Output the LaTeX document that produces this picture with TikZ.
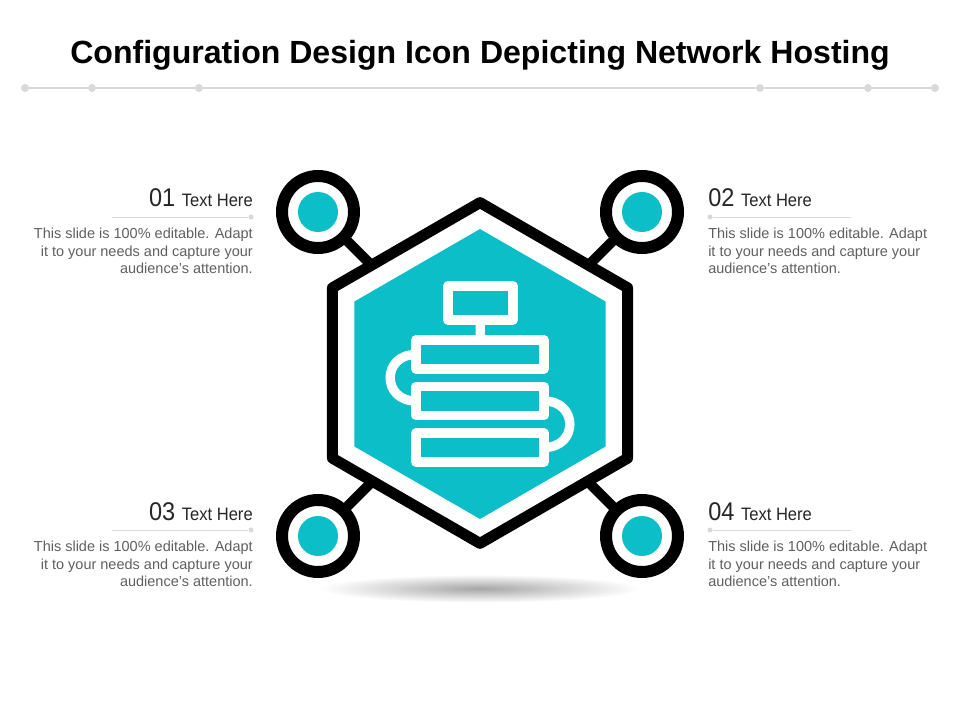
\documentclass[tikz,border=0pt]{standalone}
\usepackage{fontspec}
\setmainfont{Liberation Sans}
\newfontfamily\narrowfont[FakeStretch=0.92]{Liberation Sans}
\usetikzlibrary{shapes.geometric}
\definecolor{hostteal}{HTML}{0BBEC8}
\definecolor{rulegray}{HTML}{D9D9D9}
\definecolor{bodygray}{HTML}{5F5F5F}
\tikzset{
  hostring/.style={circle,draw=black,fill=white,line width=9pt,minimum size=54pt,inner sep=0pt,outer sep=0pt},
  hostdot/.style={circle,fill=hostteal,minimum size=30pt,inner sep=0pt},
  hexline/.style={regular polygon,regular polygon sides=6,shape border rotate=30,draw=black,line width=8.2pt,line join=round,minimum size=255.6pt,inner sep=0pt,outer sep=0pt},
  hexfill/.style={regular polygon,regular polygon sides=6,shape border rotate=30,fill=hostteal,minimum size=217.5pt,inner sep=0pt,outer sep=0pt},
  iconbox/.style={rectangle,draw=white,line width=7pt,line join=round,inner sep=0pt,outer sep=0pt},
  iconline/.style={draw=white,line width=7pt},
  link/.style={draw=black,line width=7.5pt},
  ruledot/.style={circle,fill=rulegray,minimum size=6pt,inner sep=0pt},
  smalldot/.style={circle,fill=rulegray,minimum size=3.8pt,inner sep=0pt},
  headtext/.style={inner sep=0pt,text=black!85,font=\narrowfont\fontsize{13.5}{16}\selectfont},
  bodytext/.style={inner sep=0pt,text=bodygray,font=\fontsize{10.87}{13.1}\selectfont},
  titletext/.style={inner sep=0pt,font=\bfseries\fontsize{24.05}{28}\selectfont},
}
\newcommand{\hostnum}[1]{{\fontsize{19.2}{20}\selectfont #1}\hspace{1.5pt}}
\begin{document}
\begin{tikzpicture}[x=0.75pt,y=-0.75pt]
  \useasboundingbox (0,0) rectangle (960,720);

  \node[titletext] (title) at (480,55) {Configuration Design Icon Depicting Network Hosting};

  % divider
  \node[ruledot] (r1) at (25,88) {};
  \node[ruledot] (r2) at (92,88) {};
  \node[ruledot] (r3) at (199,88) {};
  \node[ruledot] (r4) at (760,88) {};
  \node[ruledot] (r5) at (868,88) {};
  \node[ruledot] (r6) at (935,88) {};
  \draw[rulegray,line width=1.5pt] (r1) -- (r2) -- (r3) -- (r4) -- (r5) -- (r6);

  % shadow
  \shade[inner color=black!35,outer color=white] (480,588.5) ellipse (160 and 14);

  % hexagon and rings
  \node[hexline] (hex) at (480,373) {};
  \node[hexfill] (core) at (480,374) {};
  \node[hostring] (c1) at (318,212) {};
  \node[hostring] (c2) at (642,212) {};
  \node[hostring] (c3) at (318,536) {};
  \node[hostring] (c4) at (642,536) {};
  \node[hostdot] (d1) at (318,212) {};
  \node[hostdot] (d2) at (642,212) {};
  \node[hostdot] (d3) at (318,536) {};
  \node[hostdot] (d4) at (642,536) {};
  \draw[link] (c1) -- (hex);
  \draw[link] (c2) -- (hex);
  \draw[link] (c3) -- (hex);
  \draw[link] (c4) -- (hex);

  % server icon
  \node[iconbox,minimum width=48.75pt,minimum height=25.5pt] (top) at (480.5,303) {};
  \node[iconbox,minimum width=96pt,minimum height=21.75pt] (b1) at (480,354.5) {};
  \node[iconbox,minimum width=96pt,minimum height=21.75pt] (b2) at (480,401) {};
  \node[iconbox,minimum width=96pt,minimum height=21.75pt] (b3) at (480,447.5) {};
  \draw[iconline] (top) -- (b1);
  \draw[iconline] (b1.west) to[out=180,in=180,looseness=1.9] (b2.west);
  \draw[iconline] (b2.east) to[out=0,in=0,looseness=1.9] (b3.east);

  % labels
  \node[headtext,anchor=base east] (h1) at (253,207) {\hostnum{01} Text Here};
  \node[smalldot] (s1) at (251,217) {};
  \coordinate (e1) at (112,217);
  \draw[rulegray] (e1) -- (s1);
  \node[bodytext,align=right,anchor=north east] (t1) at (253,228) {This slide is 100\% editable.\hspace{4pt}Adapt\\it to your needs and capture your\\audience’s attention.};

  \node[headtext,anchor=base west] (h2) at (708,207) {\hostnum{02} Text Here};
  \node[smalldot] (s2) at (710,217) {};
  \coordinate (e2) at (851,217);
  \draw[rulegray] (e2) -- (s2);
  \node[bodytext,align=left,anchor=north west] (t2) at (708,228) {This slide is 100\% editable.\hspace{4pt}Adapt\\it to your needs and capture your\\audience’s attention.};

  \node[headtext,anchor=base east] (h3) at (253,520) {\hostnum{03} Text Here};
  \node[smalldot] (s3) at (251,530) {};
  \coordinate (e3) at (112,530);
  \draw[rulegray] (e3) -- (s3);
  \node[bodytext,align=right,anchor=north east] (t3) at (253,541) {This slide is 100\% editable.\hspace{4pt}Adapt\\it to your needs and capture your\\audience’s attention.};

  \node[headtext,anchor=base west] (h4) at (708,520) {\hostnum{04} Text Here};
  \node[smalldot] (s4) at (710,530) {};
  \coordinate (e4) at (851,530);
  \draw[rulegray] (e4) -- (s4);
  \node[bodytext,align=left,anchor=north west] (t4) at (708,541) {This slide is 100\% editable.\hspace{4pt}Adapt\\it to your needs and capture your\\audience’s attention.};
\end{tikzpicture}
\end{document}
